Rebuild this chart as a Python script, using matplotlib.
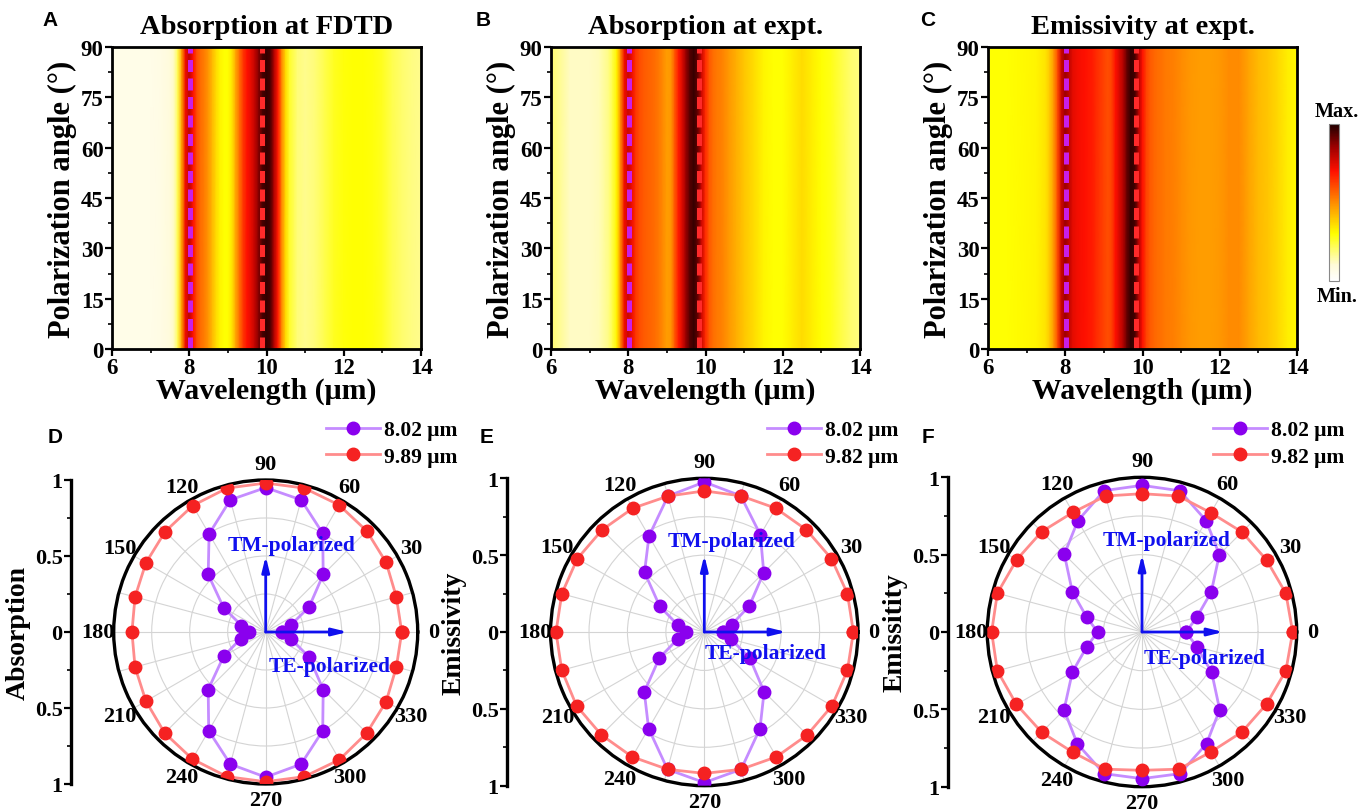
import numpy as np
import matplotlib
matplotlib.use('Agg')
import matplotlib.pyplot as plt
from matplotlib.colors import LinearSegmentedColormap
from matplotlib.cm import ScalarMappable

plt.rcParams['font.family'] = ['Liberation Serif', 'DejaVu Serif']
plt.rcParams['font.weight'] = 'bold'
plt.rcParams['axes.labelweight'] = 'bold'
plt.rcParams['axes.titleweight'] = 'bold'

# ---- heat maps (A-C): normalised spectra, same at every polarization angle ----
wavelength = [6.0, 6.5, 7.0, 7.25, 7.5, 7.6, 7.7, 7.8, 7.9, 8.0, 8.1, 8.2, 8.3, 8.4, 8.5,
              8.6, 8.7, 8.8, 8.9, 9.0, 9.1, 9.2, 9.3, 9.4, 9.5, 9.6, 9.7, 9.8, 9.9, 10.0,
              10.1, 10.2, 10.3, 10.4, 10.5, 10.6, 10.8, 11.0, 11.25, 11.5, 11.75, 12.0,
              12.25, 12.5, 12.75, 13.0, 13.25, 13.5, 13.75, 14.0]
pol_angles = [0, 90]

abs_fdtd = [.06, .06, .06, .07, .09, .12, .22, .45, .72, .80, .70, .60, .55, .52, .48,
            .42, .36, .32, .30, .30, .34, .45, .55, .64, .70, .74, .80, .88, .95, .98,
            .95, .82, .68, .50, .36, .26, .19, .17, .19, .23, .27, .29,
            .30, .30, .29, .27, .23, .20, .18, .17]
abs_expt = [.20, .12, .12, .13, .18, .24, .32, .50, .72, .78, .72, .64, .60, .58, .57,
            .56, .55, .53, .50, .47, .48, .58, .68, .76, .86, .94, .97, .92, .78, .66,
            .58, .55, .53, .52, .50, .48, .44, .40, .36, .32, .30, .30,
            .33, .36, .33, .30, .28, .24, .20, .18]
emi_expt = [.30, .30, .31, .32, .35, .40, .48, .60, .78, .85, .80, .74, .72, .71, .70,
            .69, .68, .66, .64, .62, .60, .62, .70, .76, .82, .92, .98, .96, .82, .70,
            .62, .58, .56, .55, .54, .53, .52, .50, .48, .47, .47, .48,
            .50, .50, .46, .42, .40, .37, .33, .31]

peak_short = 8.02
peak_long = [9.89, 9.82, 9.82]
heat_titles = ['Absorption at FDTD', 'Absorption at expt.', 'Emissivity at expt.']

# ---- polar plots (D-F) ----
theta_deg = list(range(0, 360, 15))
d_802 = [0.11, 0.17, 0.33, 0.535, 0.75, 0.90, 0.95, 0.90, 0.745, 0.535, 0.32, 0.165,
         0.11, 0.17, 0.32, 0.535, 0.75, 0.90, 0.955, 0.90, 0.75, 0.535, 0.33, 0.17]
d_989 = [0.895, 0.89, 0.915, 0.94, 0.965, 0.98, 0.98, 0.98, 0.96, 0.935, 0.91, 0.89,
         0.88, 0.89, 0.91, 0.94, 0.965, 0.985, 0.985, 0.985, 0.97, 0.94, 0.915, 0.89]
e_802 = [0.124, 0.184, 0.338, 0.547, 0.73, 0.917, 0.976, 0.915, 0.72, 0.55, 0.335, 0.18,
         0.12, 0.18, 0.338, 0.552, 0.725, 0.925, 0.98, 0.925, 0.725, 0.55, 0.343, 0.18]
e_982 = [0.97, 0.964, 0.955, 0.94, 0.93, 0.917, 0.918, 0.915, 0.93, 0.94, 0.954, 0.96,
         0.965, 0.96, 0.96, 0.947, 0.938, 0.925, 0.92, 0.925, 0.938, 0.947, 0.96, 0.964]
f_802 = [0.285, 0.366, 0.517, 0.707, 0.83, 0.945, 0.948, 0.946, 0.83, 0.71, 0.52, 0.37,
         0.287, 0.37, 0.52, 0.713, 0.835, 0.948, 0.948, 0.948, 0.834, 0.71, 0.52, 0.366]
f_982 = [0.974, 0.963, 0.93, 0.914, 0.89, 0.91, 0.894, 0.91, 0.893, 0.917, 0.935, 0.968,
         0.972, 0.968, 0.937, 0.917, 0.897, 0.918, 0.894, 0.918, 0.894, 0.914, 0.93, 0.963]
legend_long = ['9.89 μm', '9.82 μm', '9.82 μm']
radial_labels = ['Absorption', 'Emissivity', 'Emissitity']

cmap = LinearSegmentedColormap.from_list('heat', [
    (0.0, '#ffffff'), (0.1, '#fffbd8'), (0.3, '#ffff00'), (0.5, '#ff8c00'),
    (0.7, '#ff1000'), (0.85, '#a00000'), (1.0, '#200000')])

W, H = 1361, 812
fig = plt.figure(figsize=(W / 100, H / 100), dpi=100)


def box(x0, y_top, w, h):
    # pixel box -> figure fraction
    return [x0 / W, (H - y_top - h) / H, w / W, h / H]


heat_left = [112, 551, 988]
letters_top = [('A', 50), ('B', 483), ('C', 928)]
for i, spec in enumerate([abs_fdtd, abs_expt, emi_expt]):
    ax = fig.add_axes(box(heat_left[i], 48, 309, 302))
    X, Y = np.meshgrid(wavelength, pol_angles)
    Z = np.vstack([spec, spec])
    ax.pcolormesh(X, Y, Z, cmap=cmap, vmin=0, vmax=1, shading='gouraud')
    ax.axvline(peak_short, color='#c81ee8', lw=3.6, dashes=(2.4, 1.3))
    ax.axvline(peak_long[i], color='#ff2a2a', lw=3.6, dashes=(2.4, 1.3))
    ax.set_xlim(6, 14)
    ax.set_ylim(0, 90)
    ax.set_xticks([6, 8, 10, 12, 14])
    ax.set_xticks([7, 9, 11, 13], minor=True)
    ax.set_yticks([0, 15, 30, 45, 60, 75, 90])
    ax.set_yticks(np.arange(7.5, 90, 15), minor=True)
    ax.tick_params(which='major', direction='out', length=5, width=1.6, labelsize=16.5, pad=1)
    ax.tick_params(which='minor', direction='out', length=3, width=1.2)
    for s in ax.spines.values():
        s.set_linewidth(2)
    ax.set_xlabel('Wavelength (μm)', fontsize=21.5, labelpad=-1)
    ax.set_ylabel('Polarization angle (°)', fontsize=22, labelpad=3)
    ax.set_title(heat_titles[i], fontsize=20.5, pad=10)
    fig.text(letters_top[i][1] / W, 1 - 20 / H, letters_top[i][0], family='Liberation Sans',
             fontsize=15, weight='bold', ha='center', va='center')

cax = fig.add_axes(box(1329, 125, 10, 157))
cb = fig.colorbar(ScalarMappable(cmap=cmap), cax=cax, ticks=[])
cb.outline.set_edgecolor('#888888')
cb.outline.set_linewidth(0.8)
fig.text(1337 / W, 1 - 112 / H, 'Max.', fontsize=14.5, ha='center', va='center')
fig.text(1337 / W, 1 - 297 / H, 'Min.', fontsize=14.5, ha='center', va='center')

# polar panels
centers = [(265.7, 152.0), (704.3, 153.7), (1142.0, 154.7)]
axis_x = [71, 507, 948]
legend_x = [326, 767, 1213]
letters_bot = [('D', 55), ('E', 487), ('F', 928)]
arrow_tips = [(0.25, 0.27), (0.25, 0.267), (0.25, 0.263)]
tm_pos = [(0.585, 0.786), (0.59, 0.795), (0.578, 0.797)]
te_pos = [(0.71, 0.388), (0.698, 0.432), (0.703, 0.416)]
series = [(d_802, d_989), (e_802, e_982), (f_802, f_982)]
th = np.deg2rad(theta_deg + [theta_deg[0]])

for i, (short, long_) in enumerate(series):
    cx, R = centers[i]
    pax = fig.add_axes(box(cx - R, 633 - R, 2 * R, 2 * R), projection='polar')
    pax.plot(th, short + [short[0]], color='#c58cff', lw=2, marker='o', ms=9,
             mfc='#8a00ee', mec='#8a00ee', label='8.02 μm', zorder=3)
    pax.plot(th, long_ + [long_[0]], color='#ff8c8c', lw=2, marker='o', ms=9,
             mfc='#f52222', mec='#f52222', label=legend_long[i], zorder=4)
    pax.set_ylim(0, 1)
    pax.set_yticks([0.25, 0.5, 0.75])
    pax.set_yticklabels([])
    pax.set_xticks(np.deg2rad(np.arange(0, 360, 30)))
    pax.set_xticklabels([str(a) for a in range(0, 360, 30)], fontsize=16)
    pax.set_xticks(np.deg2rad(np.arange(15, 360, 30)), minor=True)
    pax.tick_params(axis='x', pad=1)
    pax.grid(True, which='both', color='#d4d4d4', lw=0.8)
    pax.spines['polar'].set_linewidth(2.4)

    # polarization arrows
    up, right = arrow_tips[i]
    for tip in [(0.5, 0.5 + up), (0.5 + right, 0.5)]:
        pax.annotate('', xy=tip, xytext=(0.5, 0.5), xycoords='axes fraction',
                     arrowprops=dict(arrowstyle='-|>,head_length=0.9,head_width=0.22',
                                     color='#1010ee', lw=2, shrinkA=0, shrinkB=0))
    pax.text(*tm_pos[i], 'TM-polarized', transform=pax.transAxes, color='#1010ee',
             fontsize=15.5, ha='center', va='center', zorder=5)
    pax.text(*te_pos[i], 'TE-polarized', transform=pax.transAxes, color='#1010ee',
             fontsize=15.5, ha='center', va='center', zorder=5)

    pax.legend(loc='upper left', bbox_to_anchor=(legend_x[i] / W, 1 - 421 / H),
               bbox_transform=fig.transFigure, frameon=False, fontsize=15.5,
               handlelength=2.5, handletextpad=0.2, borderpad=0, borderaxespad=0,
               labelspacing=0.3)

    # radial scale on the left
    rax = fig.add_axes(box(axis_x[i], 633 - R, 1, 2 * R))
    rax.set_xticks([])
    for k in ['top', 'right', 'bottom']:
        rax.spines[k].set_visible(False)
    rax.spines['left'].set_linewidth(2.4)
    rax.patch.set_alpha(0)
    rax.set_ylim(-1, 1)
    rax.set_yticks([-1, -0.5, 0, 0.5, 1])
    rax.set_yticklabels(['1', '0.5', '0', '0.5', '1'])
    rax.set_yticks([-0.75, -0.25, 0.25, 0.75], minor=True)
    rax.tick_params(which='major', direction='out', length=5, width=1.6, labelsize=16, pad=1)
    rax.tick_params(which='minor', direction='out', length=3, width=1.2)
    rax.set_ylabel(radial_labels[i], fontsize=20, labelpad=3)

    fig.text(letters_bot[i][1] / W, 1 - 438 / H, letters_bot[i][0], family='Liberation Sans',
             fontsize=15, weight='bold', ha='center', va='center')

fig.savefig('out.png', dpi=100)
